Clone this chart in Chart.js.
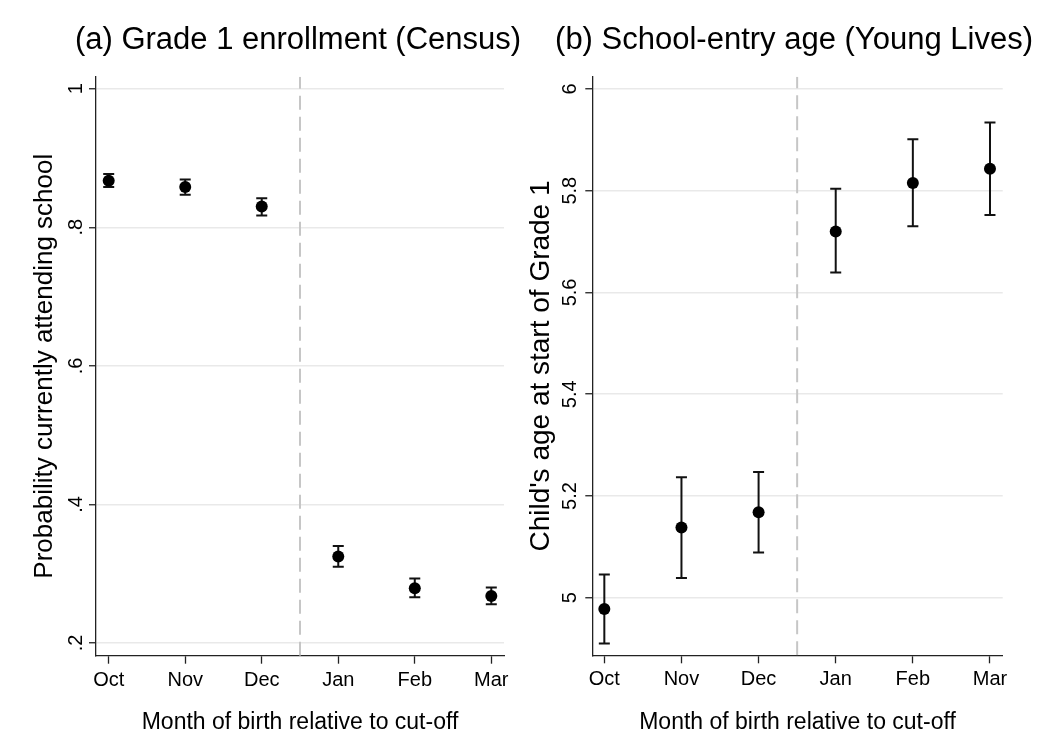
<!DOCTYPE html>
<html><head><meta charset="utf-8">
<script src="https://cdn.jsdelivr.net/npm/chart.js@4"></script>
<style>
html,body{margin:0;padding:0;background:#fff;overflow:hidden;width:1038px;height:745px;}
#wrap{position:relative;width:1038px;height:745px;overflow:hidden;background:#fff;}
canvas{position:absolute;top:0;}
#c1{left:0;}
#c2{left:519px;}
</style></head>
<body><div id="wrap"><canvas id="c1" width="596" height="745"></canvas><canvas id="c2" width="550" height="745"></canvas></div>
<script>
// ---- data ----
const months = ['Oct', 'Nov', 'Dec', 'Jan', 'Feb', 'Mar'];
const cutoff = 2.5;

const enrollMean = [0.867, 0.858, 0.830, 0.325, 0.279, 0.268];
const enrollLow  = [0.858, 0.847, 0.817, 0.310, 0.266, 0.256];
const enrollHigh = [0.877, 0.869, 0.842, 0.340, 0.293, 0.280];
const enrollTicks = [0.2, 0.4, 0.6, 0.8, 1];
const enrollTickLabels = ['.2', '.4', '.6', '.8', '1'];

const ageMean = [4.978, 5.138, 5.168, 5.720, 5.815, 5.843];
const ageLow  = [4.910, 5.039, 5.089, 5.639, 5.730, 5.752];
const ageHigh = [5.046, 5.237, 5.247, 5.804, 5.901, 5.934];
const ageTicks = [5, 5.2, 5.4, 5.6, 5.8, 6];
const ageTickLabels = ['5', '5.2', '5.4', '5.6', '5.8', '6'];

const titleA = '(a) Grade 1 enrollment (Census)';
const titleB = '(b) School-entry age (Young Lives)';
const yTitleA = 'Probability currently attending school';
const yTitleB = "Child's age at start of Grade 1";
const xTitle = 'Month of birth relative to cut-off';

// ---- chart ----
Chart.defaults.font.family = "'Liberation Sans', Arial, Helvetica, sans-serif";
Chart.defaults.color = '#000';

function makePanel(id, p) {
  const pts = p.mean.map((v, i) => ({x: i, y: v}));
  const whisk = [];
  p.mean.forEach((v, i) => {
    whisk.push({x: i, y: p.low[i]}, {x: i, y: p.high[i]}, {x: i, y: null});
  });
  const caps = [];
  p.mean.forEach((v, i) => { caps.push({x: i, y: p.low[i]}, {x: i, y: p.high[i]}); });
  const dash = [{x: cutoff, y: p.ymin}, {x: cutoff, y: p.ymax}];

  return new Chart(document.getElementById(id), {
    type: 'scatter',
    data: {
      datasets: [
        {data: pts, pointRadius: 6, pointHoverRadius: 6, backgroundColor: '#000', borderWidth: 0, pointBorderWidth: 0},
        {data: caps, pointStyle: 'line', pointRadius: 5.5, pointHoverRadius: 5.5, borderColor: '#111', pointBorderWidth: 2, borderWidth: 2},
        {type: 'line', data: whisk, borderColor: '#111', borderWidth: 2, pointRadius: 0, spanGaps: false, tension: 0},
        {type: 'line', data: dash, borderColor: '#c6c6c6', borderWidth: 2, borderDash: [14, 7], pointRadius: 0, tension: 0}
      ]
    },
    options: {
      responsive: false,
      animation: false,
      devicePixelRatio: 1,
      events: [],
      layout: {padding: 0},
      plugins: {
        legend: {display: false},
        tooltip: {enabled: false},
        title: {display: true, text: p.title, color: '#000', font: {size: 31, weight: 'normal'}, padding: {top: 21.4, bottom: 18.1}}
      },
      scales: {
        x: {
          type: 'linear', min: p.xmin, max: p.xmax, clip: false,
          afterBuildTicks: (s) => { s.ticks = months.map((m, i) => ({value: i})); },
          afterFit: (s) => { s.height = p.xHeight; },
          ticks: {callback: (v) => months[Math.round(v)], font: {size: 20}, color: '#000', padding: 4.3, maxRotation: 0, autoSkip: false},
          grid: {drawOnChartArea: false, drawTicks: true, tickLength: 8, tickColor: '#222', tickWidth: 1.3},
          border: {display: true, color: '#222', width: 1.3},
          title: {display: true, text: xTitle, color: '#000', font: {size: 23}, padding: {top: 0, bottom: 8.2}}
        },
        y: {
          type: 'linear', min: p.ymin, max: p.ymax, clip: false,
          afterBuildTicks: (s) => { s.ticks = p.ticks.map(v => ({value: v})); },
          afterFit: (s) => { s.width = p.yWidth; },
          ticks: {callback: (v, i) => p.tickLabels[i], font: {size: 20}, color: '#000', padding: p.yTickPad, minRotation: 90, maxRotation: 90, crossAlign: 'center', autoSkip: false},
          grid: {color: '#e9e9e9', lineWidth: 1.5, drawTicks: true, tickLength: 7, tickColor: '#222', tickWidth: 1.3},
          border: {display: true, color: '#222', width: 1.3},
          title: {display: true, text: p.yTitle, color: '#000', font: {size: p.yTitleSize}, padding: {top: p.yTitlePad, bottom: 0}}
        },
        gap: {
          type: 'linear', position: 'right', display: true, min: 0, max: 1,
          afterFit: (s) => { s.width = p.rightGap; },
          ticks: {display: false},
          grid: {display: false, drawTicks: false},
          border: {display: false},
          title: {display: false}
        }
      }
    }
  });
}

makePanel('c1', {
  title: titleA, yTitle: yTitleA,
  mean: enrollMean, low: enrollLow, high: enrollHigh,
  ticks: enrollTicks, tickLabels: enrollTickLabels,
  ymin: 0.1817, ymax: 1.0173, xmin: -0.166, xmax: 5.166,
  rightGap: 92, yWidth: 96, xHeight: 89.3, yTickPad: 4.2, yTitlePad: 29.4, yTitleSize: 26
});

makePanel('c2', {
  title: titleB, yTitle: yTitleB,
  mean: ageMean, low: ageLow, high: ageHigh,
  ticks: ageTicks, tickLabels: ageTickLabels,
  ymin: 4.887, ymax: 6.024, xmin: -0.156, xmax: 5.165,
  rightGap: 66.3, yWidth: 73.3, xHeight: 89.7, yTickPad: 0.9, yTitlePad: 5.9, yTitleSize: 28
});
</script>
</body></html>
